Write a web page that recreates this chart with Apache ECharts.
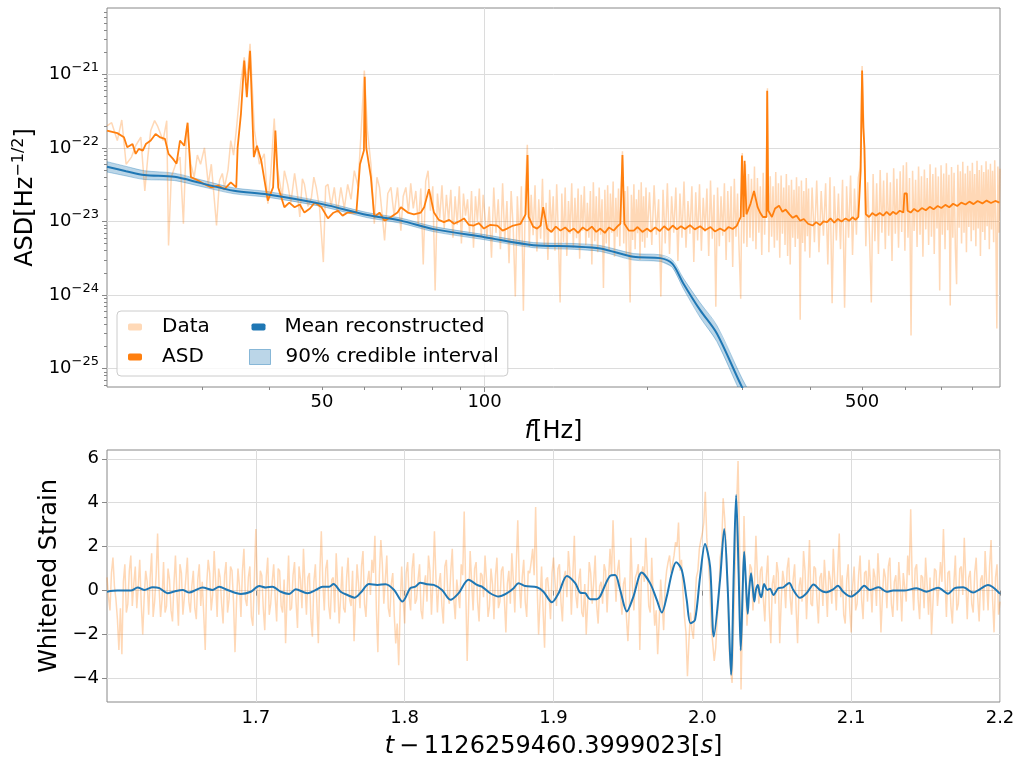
<!DOCTYPE html>
<html>
<head>
<meta charset="utf-8">
<script src="https://cdn.jsdelivr.net/npm/echarts@6/dist/echarts.min.js"></script>
<style>
html,body{margin:0;padding:0;background:#fff;}
#chart{width:1021px;height:763px;}
</style>
</head>
<body>
<div id="chart"></div>
<script>
// ---------------- Top panel: amplitude spectral density ----------------
// Light "Data" spectrum (Hz, Hz^-1/2)
const dataFreq = [
  20.0,20.4,20.9,21.3,21.7,22.2,22.6,23.1,23.5,23.8,24.1,24.5,24.8,25.4,25.8,26.0,26.3,26.8,27.3,27.7,
  28.1,28.6,29.0,29.4,29.8,30.3,30.8,31.2,31.9,32.3,32.7,33.0,33.5,33.9,34.3,34.7,35.4,35.9,36.3,36.8,
  37.5,38.3,39.1,39.7,40.2,40.8,41.2,41.7,42.2,42.6,43.2,43.8,44.5,45.0,45.5,46.0,46.4,47.1,47.8,48.3,
  48.8,49.5,50.3,50.8,51.3,52.0,52.7,53.4,54.2,55.0,55.8,56.6,57.4,58.3,59.1,59.9,60.7,61.6,62.5,63.2,
  63.9,64.6,65.3,66.2,67.1,68.0,69.0,70.0,70.7,71.5,72.3,73.0,73.8,74.6,75.4,76.2,77.0,77.8,78.6,79.4,
  80.2,81.0,81.8,82.6,83.4,84.2,85.0,85.8,86.6,87.4,88.2,89.0,89.8,90.6,91.4,92.2,93.0,93.8,94.6,95.4,
  96.2,97.0,97.8,98.6,99.4,
  100,101,102,103,104,105,106,107,108,109,110,111,112,113,114,115,116,117,118,119,
  120,121,122,123,124,125,126,127,128,129,130,131,132,133,134,135,136,137,138,139,
  140,141,142,143,144,145,146,147,148,149,150,151,152,153,154,155,156,157,158,159,
  160,161,162,163,164,165,166,167,168,169,170,171,172,173,174,175,176,177,178,179,
  180,181,182,183,184,185,186,187,188,189,190,191,192,193,194,195,196,197,198,199,200,
  202,204,206,208,210,212,214,216,218,220,222,224,226,228,230,232,234,236,238,240,
  242,244,246,248,250,252,254,256,258,260,262,264,266,268,270,272,274,276,278,280,
  282,284,286,288,290,292,294,296,298,300,302,304,306,308,310,312,314,316,318,320,
  322,324,326,328,330,332,334,336,338,340,342,344,346,348,350,352,354,356,358,360,
  362,364,366,368,370,372,374,376,378,380,382,384,386,388,390,392,394,396,398,400,
  404,408,412,416,420,424,428,432,436,440,444,448,452,456,460,464,468,472,476,480,484,488,492,496,
  500,504,508,512,516,520,524,528,532,536,540,544,548,552,556,560,564,568,572,576,
  580,584,588,592,596,600,604,608,612,616,620,624,628,632,636,640,644,648,652,656,
  660,664,668,672,676,680,684,688,692,696,700,704,708,712,716,720,724,728,732,736,
  740,744,748,752,756,760,764,768,772,776,780,784,788,792,796,800,804,808,812,816,
  820,824,828,832,836,840,844,848,852,856,860,864,868,872,876,880,884,888,892,896,900
];
const dataAsd = [
  2.0e-22,2.2e-22,1.26e-22,2.4e-22,6.0e-23,7.5e-23,1.07e-22,1.4e-22,2.6e-23,7.5e-23,1.72e-22,2.35e-22,2.0e-22,1.26e-22,2.35e-22,4.7e-24,4.0e-23,6.0e-23,7.5e-23,9.3e-24,
  2.0e-22,6.0e-23,4.0e-23,8.0e-23,6.0e-23,1.0e-22,3.2e-23,6.0e-23,8.8e-24,3.6e-23,4.5e-23,2.9e-23,5.0e-23,1.26e-22,8.0e-23,1.72e-22,8.2e-22,1.7e-21,8.2e-22,2.6e-21,
  1.72e-22,6.0e-23,8.3e-23,1.75e-23,4.5e-23,2.5e-22,6.0e-23,3.6e-23,2.2e-23,4.9e-23,3.2e-23,1.8e-23,4.5e-23,2.5e-23,1.15e-23,3.8e-23,3.2e-23,1.6e-23,2.1e-23,4.0e-23,
  2.9e-23,1.5e-23,2.8e-24,3.0e-23,3.2e-23,1.6e-23,2.9e-23,1.3e-23,2.9e-23,1.5e-23,3.2e-23,2.0e-23,4.9e-23,3.0e-23,1.72e-22,1.13e-21,1.72e-22,6.0e-23,9.3e-24,4.0e-23,
  2.9e-23,1.3e-23,5.5e-24,2.4e-23,2.9e-23,1.2e-23,2.9e-23,7.5e-24,2.2e-23,2.9e-23,1.3e-23,3.3e-23,1.5e-23,2.6e-23,9.0e-24,2.8e-23,2.6e-24,3.5e-23,4.9e-23,1.4e-23,
  3.0e-23,1.15e-24,2.4e-23,1.1e-23,3.1e-23,8.0e-24,2.3e-23,1.0e-23,2.7e-23,6.0e-24,2.2e-23,9.0e-24,3.0e-23,5.0e-24,2.4e-23,1.2e-23,2.0e-23,7.0e-24,2.6e-23,4.4e-24,
  2.2e-23,1.0e-23,2.8e-23,6.0e-24,2.3e-23,
  2.4e-23,6.0e-24,1.6e-23,3.2e-24,2.9e-23,7.0e-24,2.0e-23,4.2e-24,3.3e-23,5.5e-24,1.9e-23,2.7e-24,2.6e-23,8.0e-24,9.5e-25,2.2e-23,5.0e-24,3.0e-23,6.1e-25,2.5e-23,
  1.1e-22,4.5e-24,2.3e-23,6.5e-24,3.1e-23,3.9e-24,2.0e-23,5.8e-24,3.8e-23,4.6e-24,1.8e-23,3.0e-24,2.7e-23,7.2e-24,2.2e-23,4.0e-24,3.2e-23,6.3e-24,7.9e-25,2.4e-23,
  5.2e-24,2.9e-23,3.4e-24,1.9e-23,6.8e-24,3.3e-23,4.4e-24,2.1e-23,5.9e-24,2.8e-23,3.1e-24,2.3e-23,7.5e-24,3.0e-23,4.8e-24,1.8e-23,6.0e-24,2.6e-23,2.6e-24,3.4e-23,
  5.4e-24,2.2e-23,3.8e-24,2.9e-23,6.6e-24,2.0e-23,1.24e-24,2.7e-23,5.0e-24,3.1e-23,4.0e-24,2.4e-23,7.0e-24,3.5e-23,3.3e-24,2.1e-23,6.2e-24,2.8e-23,4.6e-24,2.5e-23,
  9.0e-23,5.0e-24,2.6e-23,3.6e-24,3.0e-23,6.4e-24,7.9e-25,2.3e-23,5.6e-24,3.2e-23,4.2e-24,2.0e-23,6.9e-24,2.7e-23,3.0e-24,3.4e-23,5.3e-24,2.2e-23,4.4e-24,2.9e-23,6.0e-24,
  2.5e-23,4.8e-24,3.1e-23,6.6e-24,2.0e-23,9.5e-25,2.7e-23,5.0e-24,3.3e-23,3.6e-24,2.2e-23,7.0e-24,2.9e-23,2.9e-24,2.4e-23,6.0e-24,3.5e-23,4.4e-24,1.9e-23,6.8e-24,
  3.0e-23,2.8e-24,2.5e-23,5.5e-24,3.2e-23,4.0e-24,2.1e-23,7.2e-24,2.8e-23,3.4e-24,3.6e-23,5.8e-24,2.3e-23,6.9e-25,2.9e-23,4.6e-24,2.2e-23,6.4e-24,3.3e-23,3.0e-24,
  2.6e-23,5.2e-24,3.0e-23,2.4e-24,3.8e-23,6.2e-24,2.4e-23,4.0e-24,8.9e-25,8.5e-23,5.0e-24,6.0e-23,4.5e-24,4.4e-23,6.0e-24,3.8e-23,5.4e-24,5.6e-23,4.2e-24,3.9e-23,
  7.0e-24,3.0e-23,3.5e-24,4.6e-23,6.6e-24,3.5e-23,6.5e-22,3.8e-24,4.1e-23,6.2e-24,3.0e-23,4.4e-24,4.7e-23,5.5e-24,3.3e-23,3.2e-24,4.2e-23,6.8e-24,2.9e-23,4.8e-24,
  4.4e-23,3.4e-24,3.1e-23,2.6e-24,3.7e-23,6.0e-24,2.7e-23,4.5e-24,4.0e-23,5.8e-24,3.0e-23,4.6e-25,3.6e-23,5.1e-24,2.6e-23,3.9e-24,3.9e-23,6.3e-24,2.8e-23,3.2e-24,
  2.9e-23,5.2e-24,3.6e-23,3.8e-24,2.6e-23,6.4e-24,3.3e-23,2.6e-24,4.0e-23,7.7e-25,3.0e-23,5.5e-24,2.4e-23,4.2e-24,3.7e-23,6.7e-25,3.0e-23,6.0e-24,4.2e-23,3.5e-24,2.8e-23,6.6e-24,3.9e-23,5.5e-23,
  1.3e-21,1.5e-22,4.6e-24,3.4e-23,6.2e-24,7.9e-25,4.4e-23,5.4e-24,3.3e-23,3.6e-24,5.0e-23,7.0e-24,3.6e-23,4.2e-24,4.6e-23,6.4e-24,3.4e-23,2.9e-24,5.3e-23,6.8e-24,
  3.8e-23,4.4e-24,4.8e-23,7.2e-24,5.8e-23,4.0e-24,6.4e-23,6.0e-24,3.9e-23,2.8e-25,4.9e-23,7.4e-24,3.7e-23,4.5e-24,5.6e-23,6.6e-24,4.1e-23,3.3e-24,5.1e-23,7.8e-24,
  3.9e-23,4.8e-24,6.0e-23,6.2e-24,4.4e-23,3.6e-24,5.4e-23,8.0e-24,4.1e-23,1.15e-24,5.8e-23,6.6e-24,4.5e-23,4.2e-24,6.2e-23,7.6e-24,4.3e-23,7.2e-25,5.5e-23,6.0e-24,
  4.6e-23,4.4e-24,1.4e-24,5.9e-23,8.2e-24,4.8e-23,5.0e-24,6.5e-23,7.0e-24,4.5e-23,3.8e-24,5.7e-23,8.4e-24,4.9e-23,5.4e-24,6.3e-23,7.6e-24,4.4e-23,4.6e-24,6.7e-23,
  8.0e-24,5.0e-23,3.4e-24,5.8e-23,7.2e-24,4.7e-23,5.6e-24,6.6e-23,8.6e-24,5.1e-23,4.2e-24,6.1e-23,7.8e-24,4.9e-23,5.2e-24,6.8e-23,8.4e-24,3.5e-25,5.6e-23,7.0e-24,5.2e-23
];

// Orange "ASD" estimate
const asdFreq = [
  20.0,20.9,21.5,21.8,22.3,22.6,22.9,23.3,23.6,24.1,24.6,25.1,25.6,26.0,26.5,26.9,27.3,27.8,28.2,28.6,
  29.5,30.3,31.2,32.1,33.0,33.9,34.7,34.9,35.4,35.9,36.3,36.8,37.4,37.9,38.6,39.7,40.6,41.0,41.5,42.6,
  43.5,44.5,45.5,46.4,47.5,48.5,49.9,51.3,52.4,53.5,54.6,55.8,57.9,58.8,59.8,60.0,60.4,61.6,62.5,63.9,
  65.3,67.1,69.0,70.0,72.1,74.0,76.2,77.3,78.9,80.6,82.3,84.1,86.0,87.8,89.7,91.6,93.5,95.5,97.6,99.7,
  102.5,105.6,108,110.1,113,116.6,119.1,120.1,120.7,123,125.1,127,128.4,130.6,133,135.5,138.2,141,143.5,146.3,
  149,152,154.8,158,161,163.8,167,170,173.4,176,178.4,180.0,181.5,185,188.9,192,196,200,203,207,
  211,215,219,223,227,231,235,240,245,250.7,256,262,267,273,278,283,288,293,298,299.6,
  301.7,303,305.4,310.8,315.4,320.3,324,327.6,332.6,333.6,335.2,340.4,345,350.9,356,361,366.9,372,378,384,
  390,397,404.8,411,418,424,430.7,437,444,451,458,466,473,480,486,492,496.9,500,502.6,505,
  508,515,522,530,539,547,555,563,570,578,587,596,599,605,607,615,624,634,645,656,
  667,678,690,701,713,725,737,750,763,777,790,804,818,835,850,866,882,898
];
const asdVal = [
  1.72e-22,1.59e-22,1.40e-22,1.02e-22,1.13e-22,8.3e-23,9.7e-23,9.2e-23,1.13e-22,1.26e-22,1.55e-22,1.39e-22,1.33e-22,8.3e-23,7.1e-23,6.1e-23,1.26e-22,1.07e-22,2.2e-22,4.0e-23,
  3.6e-23,3.2e-23,2.9e-23,3.07e-23,2.75e-23,3.4e-23,2.9e-23,1.0e-22,2.9e-22,1.54e-21,4.9e-22,2.1e-21,7.5e-23,1.07e-22,6.7e-23,1.92e-23,2.9e-23,1.72e-22,2.9e-23,1.56e-23,
  1.8e-23,1.56e-23,1.7e-23,1.32e-23,1.5e-23,1.81e-23,1.56e-23,1.1e-23,1.3e-23,1.40e-23,1.2e-23,1.32e-23,1.32e-23,6.0e-23,9.2e-23,9.3e-22,1.0e-22,4.0e-23,1.15e-23,1.32e-23,
  1.02e-23,1.15e-23,1.32e-23,1.56e-23,1.32e-23,1.25e-23,1.32e-23,1.56e-23,2.75e-23,1.32e-23,1.05e-23,9.8e-24,1.05e-23,9.3e-24,1.0e-23,1.1e-23,9.0e-24,8.8e-24,9.5e-24,8.0e-24,
  9.0e-24,8.8e-24,7.5e-24,8.0e-24,8.8e-24,9.3e-24,1.25e-23,8.0e-23,1.15e-23,8.5e-24,8.0e-24,8.8e-24,1.56e-23,8.0e-24,7.2e-24,8.5e-24,7.5e-24,8.3e-24,7.3e-24,8.0e-24,
  7.0e-24,8.3e-24,7.5e-24,8.5e-24,7.2e-24,8.0e-24,7.0e-24,8.3e-24,7.5e-24,8.5e-24,9.3e-24,8.0e-23,9.3e-24,7.5e-24,7.5e-24,8.4e-24,7.2e-24,8.0e-24,7.3e-24,8.3e-24,
  7.4e-24,8.6e-24,7.6e-24,8.8e-24,7.8e-24,8.6e-24,7.9e-24,8.9e-24,7.8e-24,8.6e-24,7.6e-24,8.4e-24,7.3e-24,8.0e-24,7.4e-24,8.4e-24,7.9e-24,8.7e-24,1.15e-23,7.9e-23,
  1.15e-23,6.7e-23,1.25e-23,1.75e-23,2.6e-23,1.56e-23,1.3e-23,1.15e-23,1.15e-23,6.0e-22,1.40e-23,1.15e-23,1.5e-23,1.64e-23,1.35e-23,1.45e-23,1.25e-23,1.12e-23,1.2e-23,1.02e-23,
  1.08e-23,9.3e-24,8.8e-24,9.8e-24,8.9e-24,1.0e-23,9.8e-24,1.1e-23,9.6e-24,1.08e-23,1.0e-23,1.1e-23,1.02e-23,1.14e-23,1.05e-23,1.15e-23,4.9e-23,1.13e-21,1.9e-22,1.0e-22,
  1.25e-23,1.15e-23,1.3e-23,1.2e-23,1.3e-23,1.2e-23,1.35e-23,1.22e-23,1.35e-23,1.26e-23,1.4e-23,1.32e-23,2.4e-23,2.4e-23,1.40e-23,1.32e-23,1.48e-23,1.36e-23,1.52e-23,1.42e-23,
  1.58e-23,1.46e-23,1.62e-23,1.52e-23,1.68e-23,1.56e-23,1.74e-23,1.62e-23,1.8e-23,1.7e-23,1.86e-23,1.72e-23,1.9e-23,1.76e-23,1.92e-23,1.78e-23,1.9e-23,1.8e-23
];

// Blue mean reconstruction and 90% credible band
const meanFreq = [20,21.7,23.45,26.65,29.85,34.36,39.67,50.1,60.7,70,80.5,100,123.2,146.5,163.8,188.6,211.5,222.6,233.2,250.7,269.2,299.5,320];
const meanVal  = [5.53e-23,4.83e-23,4.27e-23,4.04e-23,3.32e-23,2.61e-23,2.33e-23,1.72e-23,1.22e-23,1.026e-23,7.86e-24,6.11e-24,4.76e-24,4.57e-24,4.29e-24,3.30e-24,3.17e-24,2.67e-24,1.447e-24,6.21e-25,2.99e-25,5.62e-26,2.3e-26];
const bandLow  = [4.71e-23,4.16e-23,3.72e-23,3.60e-23,2.99e-23,2.38e-23,2.13e-23,1.59e-23,1.125e-23,9.46e-24,7.25e-24,5.64e-24,4.39e-24,4.17e-24,3.91e-24,2.98e-24,2.86e-24,2.38e-24,1.232e-24,4.93e-25,2.32e-25,4.26e-26,1.75e-26];
const bandHigh = [6.50e-23,5.61e-23,4.90e-23,4.53e-23,3.68e-23,2.86e-23,2.55e-23,1.86e-23,1.32e-23,1.112e-23,8.52e-24,6.62e-24,5.16e-24,5.01e-24,4.70e-24,3.66e-24,3.52e-24,3.00e-24,1.70e-24,7.82e-25,3.85e-25,7.41e-26,3.03e-26];

// Axis ranges and tick positions / labels
const freqRange = [20, 900];
const asdRange = [5.6e-26, 8e-21];
const freqLabelTicks = [50, 100, 500];
const freqMajorTicks = [100];
const freqMinorTicks = [30, 40, 50, 60, 70, 80, 90, 200, 300, 400, 500, 600, 700, 800];
const asdMajorTicks = [1e-25, 1e-24, 1e-23, 1e-22, 1e-21];
const asdMinorMantissa = [2, 3, 4, 5, 6, 7, 8, 9];
const asdMinorExponents = [-26, -25, -24, -23, -22, -21];

// ---------------- Bottom panel: whitened strain ----------------
const strainT0 = 1.6;     // first sample time (s)
const strainDt = 0.001;   // sample spacing (s)
const strainData = [
  0.6,-0.3,-0.9,0.8,1.5,0.2,-0.4,-1.3,-2.7,-0.8,-2.9,0.4,1.2,-1.0,-0.6,0.9,1.6,-0.7,0.3,1.1,
  -0.8,0.2,1.4,-0.6,-2.0,-0.3,0.9,0.4,-1.1,0.6,1.7,-1.2,-0.5,0.7,2.6,0.1,-1.2,-0.4,1.3,-1.0,
  -0.7,1.0,0.5,-0.9,-1.4,0.3,1.6,-0.2,-1.6,1.2,0.8,-1.1,-0.3,0.6,1.5,-0.5,-1.0,0.2,0.9,-0.8,
  -1.3,0.5,1.2,-0.7,0.4,-1.1,-2.7,0.3,1.4,0.8,-0.9,-0.2,1.8,0.4,-1.2,1.0,0.6,-0.6,-1.5,0.7,
  1.3,-1.0,-0.4,1.1,0.9,-0.5,-2.8,-0.6,1.0,0.2,-1.2,0.9,1.9,-0.4,-0.7,0.6,1.1,-1.2,-1.6,0.5,
  2.8,0.3,-1.1,0.9,0.7,-0.8,-1.8,0.6,1.5,-1.1,-0.6,0.4,1.2,-0.3,-1.4,1.0,0.9,-0.7,-1.0,0.5,
  -2.4,-0.2,1.6,-0.9,-0.8,0.7,1.3,-0.5,-1.7,1.1,0.5,-0.8,1.9,0.3,-1.1,0.6,0.8,-1.3,-2.1,0.4,
  1.2,-0.6,-2.4,0.8,2.7,0.4,-0.9,1.0,1.4,-0.7,-1.3,0.5,0.6,-1.0,1.7,0.2,-1.5,-0.3,1.1,-0.8,
  -1.0,0.6,1.5,-0.4,-0.7,0.9,-2.3,-0.5,1.2,0.3,-0.8,1.1,1.8,-0.6,-1.2,0.4,0.9,-0.2,1.4,0.8,
  2.5,-0.9,-2.8,0.7,2.3,1.2,-0.6,0.5,1.6,-0.8,-1.2,0.3,0.8,-1.1,-2.4,-1.5,-3.4,-0.7,1.1,-0.4,
  -1.5,0.8,1.3,-0.3,-0.9,1.0,1.7,-0.6,-0.4,0.5,1.2,-0.9,-1.3,0.2,0.7,-0.5,1.6,0.9,-1.1,0.4,
  2.7,0.6,-1.0,0.3,0.8,-0.7,-1.5,1.1,1.4,-0.2,-0.6,0.9,1.9,-0.4,-1.3,0.5,0.5,-0.8,1.2,0.7,
  3.6,0.2,-3.2,-0.6,1.8,0.4,-0.9,1.0,1.3,-0.5,-1.4,0.8,0.7,-0.3,1.6,0.5,-1.2,-0.7,1.0,0.3,
  -1.3,0.7,1.5,-0.8,-0.5,0.9,1.1,-0.4,-1.9,0.3,0.9,-0.6,1.7,0.5,-1.0,1.2,3.2,0.4,-0.8,0.6,
  1.4,-0.5,-1.2,0.9,0.8,1.3,1.9,0.7,3.8,0.2,-2.0,-0.4,1.1,-0.9,-2.6,0.5,0.6,-0.2,-1.3,0.8,
  1.5,0.4,-0.7,1.0,1.2,-0.5,-1.4,0.6,0.9,-0.3,1.8,0.9,-1.1,0.7,2.5,-0.2,-0.8,0.5,1.0,-1.0,
  -1.2,0.3,-2.0,-0.5,1.3,0.8,-0.6,0.4,1.6,-0.7,-1.5,0.2,0.4,-0.6,1.2,0.9,-1.0,0.5,1.9,0.7,
  3.2,1.1,-0.5,0.9,1.4,-0.2,-1.1,0.3,0.6,-1.2,-2.3,-0.8,2.4,0.2,-0.9,0.6,0.8,1.2,-2.7,0.5,
  1.1,0.4,2.4,0.9,-0.7,-1.0,1.5,-0.3,-1.6,-0.9,-2.9,-1.4,0.5,-0.6,-1.8,0.2,0.9,1.3,1.6,0.8,
  0.8,1.6,2.2,2.0,3.1,0.9,1.4,-0.1,-1.2,-1.9,-3.9,-2.3,-1.0,-1.8,-2.2,-0.6,0.6,0.9,1.9,2.3,
  2.6,3.1,4.5,2.4,1.4,0.3,-1.6,-2.4,-3.2,-2.6,-1.3,-0.4,1.5,2.0,4.2,3.3,2.0,0.4,-2.6,-3.6,
  -4.2,-1.6,0.9,3.8,5.9,2.1,-4.5,-1.2,3.4,0.6,-1.6,-0.3,1.2,1.0,-0.9,0.2,2.5,0.7,-0.6,0.9,
  1.1,-0.4,-1.4,0.6,1.6,-0.9,-2.4,0.3,0.7,-0.6,1.3,0.8,-2.4,-0.5,0.9,0.4,-0.8,1.0,1.5,-0.3,
  -1.1,0.5,1.2,-0.8,-2.4,0.2,0.6,-0.5,1.8,0.9,-1.3,0.3,2.3,-0.6,-0.7,1.1,1.0,-0.4,-1.5,0.6,
  0.8,-0.7,1.4,0.3,-1.2,0.9,0.5,-0.6,1.9,0.4,-0.9,1.0,2.6,-0.3,0.7,-1.1,-1.5,0.5,1.2,-0.8,
  -1.9,0.2,1.1,-0.9,-0.6,0.7,1.6,-0.4,-1.3,0.8,0.9,-0.5,1.4,0.3,-1.0,1.0,0.6,-0.7,1.7,0.4,
  -1.9,-0.3,1.0,0.6,-0.8,1.1,1.5,-0.6,-1.2,0.4,0.7,-0.9,1.3,0.2,-1.4,0.8,0.8,-0.5,1.6,0.7,
  3.7,0.5,-0.9,1.0,1.2,-0.4,-1.3,0.7,0.6,-0.8,1.5,0.3,-1.1,0.6,-2.0,-0.5,1.0,0.9,-0.7,0.2,
  1.3,0.4,2.8,0.6,-1.2,0.8,0.9,-0.7,-1.5,0.3,1.6,-0.9,-0.6,1.0,1.1,-0.2,2.4,0.5,-1.3,0.6,
  0.9,-0.6,-1.0,0.8,1.5,-0.3,-1.4,0.5,0.7,-0.9,1.8,0.4,-0.9,1.1,2.3,-0.4,-1.9,0.6,1.2,-1.1,-0.5
];
const reconTime = [
  1.600,1.607,1.616,1.6206,1.625,1.6307,1.6352,1.6407,1.6452,1.6508,1.6553,1.6597,1.6642,1.6709,1.6754,1.681,1.6899,1.6966,1.7023,1.7067,
  1.7112,1.7168,1.7224,1.7268,1.7347,1.7403,1.7448,1.7493,1.7522,1.757,1.7615,1.7664,1.7705,1.7761,1.7817,1.7872,1.7929,1.7985,1.8038,1.8072,
  1.8105,1.815,1.8195,1.8251,1.8307,1.8362,1.8429,1.8486,1.8519,1.8575,1.8631,1.8687,1.8732,1.8765,1.881,1.8889,1.8933,1.8989,1.9034,1.909,
  1.9146,1.9179,1.9213,1.9246,1.9291,1.9313,1.938,1.9414,1.9448,1.9493,1.9537,1.9593,1.9649,1.9694,1.9728,1.9761,1.9795,1.9824,1.9862,1.9895,
  1.9920,1.9951,1.9985,2.0018,2.0052,2.0077,2.0119,2.0147,2.0171,2.0193,2.0211,2.0227,2.0244,2.0258,2.0271,2.0281,2.0293,2.0305,2.0315,2.0327,
  2.0338,2.0349,2.036,2.0373,2.0385,2.0396,2.0415,2.0437,2.0455,2.0478,2.051,2.0544,2.0584,2.0611,2.0656,2.07,2.0748,2.079,2.0829,2.0879,
  2.0911,2.0946,2.0997,2.1047,2.1088,2.1126,2.1185,2.1238,2.1282,2.1355,2.1439,2.1506,2.1584,2.1651,2.1696,2.1752,2.1819,2.1864,2.1919,2.2
];
const reconVal = [
  -0.05,0.0,0.0,0.14,0.03,0.15,0.11,-0.12,-0.04,0.03,-0.09,0.03,0.14,0.03,0.18,0.03,-0.15,-0.05,0.21,0.14,
  0.18,-0.05,-0.15,0.06,-0.12,0.03,0.18,0.18,0.30,-0.05,-0.20,-0.32,-0.09,0.30,0.26,0.29,0.03,-0.50,0.11,0.18,
  0.36,0.29,0.26,0.03,-0.42,-0.12,0.49,0.26,0.18,-0.12,-0.27,-0.12,0.11,0.34,0.21,0.15,-0.05,-0.53,-0.12,0.67,
  0.34,-0.09,-0.12,-0.39,-0.39,-0.27,0.67,0.71,0.03,-0.95,-0.27,0.82,0.34,-0.42,-1.0,-0.27,0.79,1.29,0.94,-0.42,
  -1.48,-1.33,0.64,2.12,1.09,-2.09,0.49,2.80,0.03,-3.83,0.79,4.35,0.79,-2.72,0.03,1.77,0.34,-1.05,0.03,0.79,
  0.18,-0.50,0.03,0.26,-0.12,-0.30,0.30,0.03,0.08,-0.20,0.11,0.15,0.35,0.03,-0.33,-0.12,0.28,0.03,-0.08,0.06,
  0.22,-0.05,-0.27,-0.05,0.22,0.03,0.15,-0.05,0.0,0.0,0.11,-0.05,0.13,-0.14,0.11,0.15,-0.09,0.06,0.25,-0.15
];
const timeRange = [1.6, 2.2];
const strainRange = [-5.07, 6.4];
const timeTicks = [1.7, 1.8, 1.9, 2.0, 2.1, 2.2];
const strainTicks = [-4, -2, 0, 2, 4, 6];

// ---------------- Build ----------------
const FONT = 'DejaVu Sans';
const zip = (xs, ys) => xs.map((x, i) => [x, ys[i]]);
const asdMinorTicks = [];
asdMinorExponents.forEach(e => asdMinorMantissa.forEach(m => {
  const v = m * Math.pow(10, e);
  if (v > asdRange[0] && v < asdRange[1]) asdMinorTicks.push(v);
}));
const strainPairs = strainData.map((v, i) => [+(strainT0 + i * strainDt).toFixed(4), v]);
const bandData = meanFreq.map((f, i) => [f, bandLow[i], bandHigh[i]]);
const MINUS = '\u2212';

const spineColor = '#888888';
const gridColor = '#dcdcdc';
const bandColor = 'rgba(31,119,180,0.3)';
const tickLabel = {fontFamily: FONT, fontSize: 18, color: '#000'};

function renderBand(params, api) {
  if (params.dataIndex !== 0) return {type: 'group', children: []};
  const upper = [], lower = [];
  for (let i = 0; i < bandData.length; i++) {
    upper.push(api.coord([bandData[i][0], bandData[i][2]]));
    lower.push(api.coord([bandData[i][0], bandData[i][1]]));
  }
  return {
    type: 'group',
    children: [
      {type: 'polygon', shape: {points: upper.concat(lower.slice().reverse())}, style: {fill: bandColor, stroke: null}},
      {type: 'polyline', shape: {points: upper, smooth: 0.3}, style: {stroke: 'rgba(31,119,180,0.35)', lineWidth: 1, fill: null}},
      {type: 'polyline', shape: {points: lower, smooth: 0.3}, style: {stroke: 'rgba(31,119,180,0.35)', lineWidth: 1, fill: null}}
    ]
  };
}

const chart = echarts.init(document.getElementById('chart'), null, {renderer: 'canvas'});
chart.setOption({
  animation: false,
  backgroundColor: '#ffffff',
  textStyle: {fontFamily: FONT},
  grid: [
    {left: 107, right: 21, top: 8, height: 379, show: true, borderColor: spineColor, borderWidth: 1, backgroundColor: '#fff'},
    {left: 107, right: 21, top: 450, height: 252, show: true, borderColor: spineColor, borderWidth: 1, backgroundColor: '#fff'}
  ],
  xAxis: [
    {
      type: 'log', logBase: 10, gridIndex: 0, position: 'bottom', min: freqRange[0], max: freqRange[1],
      axisLine: {show: false},
      axisTick: {show: true, customValues: freqMajorTicks, length: 5, lineStyle: {color: spineColor}},
      axisLabel: Object.assign({customValues: freqLabelTicks, margin: 6, formatter: v => String(Math.round(v))}, tickLabel),
      splitLine: {show: true, lineStyle: {color: gridColor, width: 1}},
      minorTick: {show: false}, minorSplitLine: {show: false},
      name: '{i|f}{n|[Hz]}', nameLocation: 'middle', nameGap: 33,
      nameTextStyle: {rich: {i: {fontFamily: FONT, fontSize: 24, fontStyle: 'italic', color: '#000'}, n: {fontFamily: FONT, fontSize: 24, color: '#000'}}}
    },
    {
      type: 'log', logBase: 10, gridIndex: 0, position: 'bottom', min: freqRange[0], max: freqRange[1],
      axisLine: {show: false},
      axisTick: {show: true, customValues: freqMinorTicks, length: 3, lineStyle: {color: spineColor}},
      axisLabel: {show: false}, splitLine: {show: false}
    },
    {
      type: 'value', gridIndex: 1, position: 'bottom', min: timeRange[0], max: timeRange[1],
      axisLine: {show: false},
      axisTick: {show: true, customValues: timeTicks, length: 5, lineStyle: {color: spineColor}},
      axisLabel: Object.assign({customValues: timeTicks, margin: 7, formatter: v => v.toFixed(1)}, tickLabel),
      splitLine: {show: true, lineStyle: {color: gridColor, width: 1}},
      name: '{i|t}{n|\u2009\u2212\u20091126259460.3999023[}{i|s}{n|]}', nameLocation: 'middle', nameGap: 33,
      nameTextStyle: {rich: {i: {fontFamily: FONT, fontSize: 24, fontStyle: 'italic', color: '#000'}, n: {fontFamily: FONT, fontSize: 24, color: '#000'}}}
    }
  ],
  yAxis: [
    {
      type: 'log', logBase: 10, gridIndex: 0, position: 'left', min: asdRange[0], max: asdRange[1],
      axisLine: {show: false},
      axisTick: {show: true, customValues: asdMajorTicks, length: 5, lineStyle: {color: spineColor}},
      axisLabel: {
        customValues: asdMajorTicks, margin: 8,
        formatter: v => { const e = Math.round(Math.log10(v)); return '{b|10}{s|' + (e < 0 ? MINUS : '') + Math.abs(e) + '}'; },
        rich: {
          b: {fontFamily: FONT, fontSize: 18, lineHeight: 26, color: '#000'},
          s: {fontFamily: FONT, fontSize: 13, lineHeight: 13, verticalAlign: 'top', color: '#000'}
        }
      },
      splitLine: {show: true, lineStyle: {color: gridColor, width: 1}},
      minorTick: {show: false},
      name: '{n|ASD[Hz}{s|\u22121/2}{n|]}', nameLocation: 'middle', nameGap: 66, nameRotate: 90,
      nameTextStyle: {rich: {
        n: {fontFamily: FONT, fontSize: 24, lineHeight: 30, color: '#000'},
        s: {fontFamily: FONT, fontSize: 16, lineHeight: 16, verticalAlign: 'top', color: '#000'}
      }}
    },
    {
      type: 'log', logBase: 10, gridIndex: 0, position: 'left', min: asdRange[0], max: asdRange[1],
      axisLine: {show: false},
      axisTick: {show: true, customValues: asdMinorTicks, length: 3, lineStyle: {color: spineColor}},
      axisLabel: {show: false}, splitLine: {show: false}
    },
    {
      type: 'value', gridIndex: 1, position: 'left', min: strainRange[0], max: strainRange[1],
      axisLine: {show: false},
      axisTick: {show: true, customValues: strainTicks, length: 5, lineStyle: {color: spineColor}},
      axisLabel: Object.assign({customValues: strainTicks, margin: 8, formatter: v => (v < 0 ? MINUS + Math.abs(v) : String(v))}, tickLabel),
      splitLine: {show: true, lineStyle: {color: gridColor, width: 1}},
      name: 'Whitened Strain', nameLocation: 'middle', nameGap: 40, nameRotate: 90,
      nameTextStyle: {fontFamily: FONT, fontSize: 24, color: '#000'}
    }
  ],
  legend: [
    {
      selectedMode: false, z: 5, orient: 'vertical', left: 117, top: 311,
      padding: [36, 9, 9, 132], borderColor: '#cccccc', borderWidth: 1, borderRadius: 4,
      backgroundColor: 'rgba(255,255,255,0.8)',
      itemWidth: 21, itemHeight: 15,
      data: [{name: '90% credible interval', icon: 'rect', itemStyle: {color: bandColor, borderColor: 'rgba(31,119,180,0.45)', borderWidth: 1}}],
      textStyle: {fontFamily: FONT, fontSize: 20, color: '#000', padding: [0, 0, 0, 10]}
    },
    {
      selectedMode: false, z: 6, orient: 'vertical', left: 128, top: 317, padding: 0,
      itemWidth: 14, itemHeight: 7,
      data: [{name: 'Data', icon: 'roundRect', itemStyle: {color: '#ffd9b7'}}],
      textStyle: {fontFamily: FONT, fontSize: 20, color: '#000', padding: [0, 0, 0, 15]}
    },
    {
      selectedMode: false, z: 6, orient: 'vertical', left: 128, top: 347, padding: 0,
      itemWidth: 14, itemHeight: 7,
      data: [{name: 'ASD', icon: 'roundRect', itemStyle: {color: '#ff7f0e'}}],
      textStyle: {fontFamily: FONT, fontSize: 20, color: '#000', padding: [0, 0, 0, 15]}
    },
    {
      selectedMode: false, z: 6, orient: 'vertical', left: 251.5, top: 317, padding: 0,
      itemWidth: 14, itemHeight: 7,
      data: [{name: 'Mean reconstructed', icon: 'roundRect', itemStyle: {color: '#1f77b4'}}],
      textStyle: {fontFamily: FONT, fontSize: 20, color: '#000', padding: [0, 0, 0, 14]}
    }
  ],
  series: [
    {
      name: '90% credible interval', type: 'custom', xAxisIndex: 0, yAxisIndex: 0,
      data: bandData, encode: {x: 0, y: [1, 2]}, renderItem: renderBand, clip: true,
      itemStyle: {color: bandColor}, z: 1, silent: true
    },
    {
      name: 'Data', type: 'line', xAxisIndex: 0, yAxisIndex: 0, data: zip(dataFreq, dataAsd),
      showSymbol: false, symbol: 'none', color: '#ffd9b7',
      lineStyle: {color: 'rgba(255,127,14,0.3)', width: 1.5}, z: 2, silent: true
    },
    {
      name: 'ASD', type: 'line', xAxisIndex: 0, yAxisIndex: 0, data: zip(asdFreq, asdVal),
      showSymbol: false, symbol: 'none', color: '#ff7f0e',
      lineStyle: {color: '#ff7f0e', width: 1.8}, z: 3, silent: true
    },
    {
      name: 'Mean reconstructed', type: 'line', xAxisIndex: 0, yAxisIndex: 0, data: zip(meanFreq, meanVal),
      showSymbol: false, symbol: 'none', smooth: 0.3, color: '#1f77b4',
      lineStyle: {color: '#1f77b4', width: 2}, z: 4, silent: true
    },
    {
      name: 'Whitened data', type: 'line', xAxisIndex: 2, yAxisIndex: 2, data: strainPairs,
      showSymbol: false, symbol: 'none', lineStyle: {color: 'rgba(255,127,14,0.3)', width: 1.5}, z: 1, silent: true
    },
    {
      name: 'Reconstructed strain', type: 'line', xAxisIndex: 2, yAxisIndex: 2, data: zip(reconTime, reconVal),
      showSymbol: false, symbol: 'none', smooth: 0.3, lineStyle: {color: '#1f77b4', width: 2}, z: 2, silent: true
    }
  ]
});
</script>
</body>
</html>
